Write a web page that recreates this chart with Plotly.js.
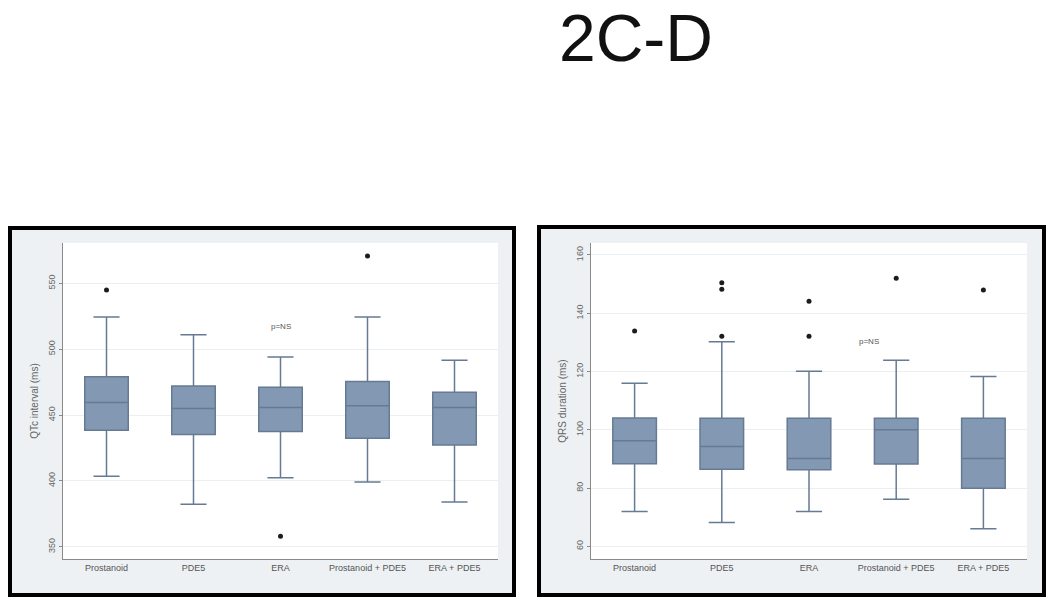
<!DOCTYPE html>
<html>
<head>
<meta charset="utf-8">
<script src="https://cdn.plot.ly/plotly-3.0.1.min.js"></script>
<style>html,body{margin:0;padding:0;background:#fff;}#chart{width:1050px;height:605px;}</style>
</head>
<body>
<div id="chart"></div>
<script>
// ---- Data ----
const categories = ['Prostanoid', 'PDE5', 'ERA', 'Prostanoid + PDE5', 'ERA + PDE5'];

// QTc interval (ms)
const qtcLower  = [403.6, 382.3, 402.3, 399.2, 384.0];
const qtcQ1     = [438.5, 435.2, 437.5, 432.4, 427.3];
const qtcMedian = [459.6, 455.0, 455.8, 457.0, 455.8];
const qtcQ3     = [479.0, 472.0, 471.0, 475.5, 467.2];
const qtcUpper  = [524.4, 511.0, 494.0, 524.4, 491.5];
const qtcOutCat = ['Prostanoid', 'ERA', 'Prostanoid + PDE5'];
const qtcOutVal = [545.0, 358.0, 570.7];

// QRS duration (ms)
const qrsLower  = [72.0, 68.2, 72.0, 76.2, 66.1];
const qrsQ1     = [88.4, 86.5, 86.3, 88.3, 80.0];
const qrsMedian = [96.3, 94.3, 90.2, 100.0, 90.2];
const qrsQ3     = [104.1, 104.0, 104.0, 104.0, 104.0];
const qrsUpper  = [116.0, 130.2, 120.1, 123.9, 118.3];
const qrsOutCat = ['Prostanoid', 'PDE5', 'PDE5', 'PDE5', 'ERA', 'ERA', 'Prostanoid + PDE5', 'ERA + PDE5'];
const qrsOutVal = [133.9, 150.5, 148.2, 132.1, 144.1, 132.1, 152.0, 148.0];

const titleText = '2C-D';
const qtcTitle = 'QTc interval (ms)';
const qrsTitle = 'QRS duration (ms)';
const pText = 'p=NS';

// ---- Styling ----
const W = 1050, H = 605;
const px = v => v / W;
const py = v => (H - v) / H;
const boxFill = '#8399b3';
const boxLine = '#667b93';
const font = 'Liberation Sans, Arial, sans-serif';

function boxTrace(q1, med, q3, lo, hi, xa, ya) {
  return {
    type: 'box', x: categories, q1: q1, median: med, q3: q3,
    lowerfence: lo, upperfence: hi,
    xaxis: xa, yaxis: ya,
    fillcolor: boxFill, line: {color: boxLine, width: 1.5},
    width: 0.5, whiskerwidth: 0.6, boxpoints: false,
    showlegend: false, hoverinfo: 'y'
  };
}
function outTrace(cat, val, xa, ya) {
  return {
    type: 'scatter', mode: 'markers', x: cat, y: val,
    xaxis: xa, yaxis: ya,
    marker: {color: '#1c1c1c', size: 5},
    showlegend: false
  };
}

const data = [
  boxTrace(qtcQ1, qtcMedian, qtcQ3, qtcLower, qtcUpper, 'x', 'y'),
  outTrace(qtcOutCat, qtcOutVal, 'x', 'y'),
  boxTrace(qrsQ1, qrsMedian, qrsQ3, qrsLower, qrsUpper, 'x2', 'y2'),
  outTrace(qrsOutCat, qrsOutVal, 'x2', 'y2')
];

const xCommon = {
  type: 'category', categoryorder: 'array', categoryarray: categories,
  range: [-0.5, 4.5], showline: true, linecolor: '#8a8a8a', linewidth: 1.2,
  ticks: '', showgrid: false, zeroline: false,
  tickfont: {family: font, size: 9, color: '#555'}
};
const yCommon = {
  showline: true, linecolor: '#8a8a8a', linewidth: 1.2,
  ticks: 'outside', ticklen: 3, tickcolor: '#8a8a8a',
  tickangle: -90, tickfont: {family: font, size: 9, color: '#666'},
  showgrid: true, gridcolor: '#eceff2', gridwidth: 1, zeroline: false
};

const yDom = [py(559), py(243)];
const layout = {
  width: W, height: H,
  margin: {l: 0, r: 0, t: 0, b: 0},
  paper_bgcolor: '#ffffff', plot_bgcolor: '#ffffff',
  showlegend: false,
  xaxis: Object.assign({}, xCommon, {domain: [px(63), px(498)], anchor: 'y'}),
  yaxis: Object.assign({}, yCommon, {
    domain: yDom, anchor: 'x', range: [340.7, 580.6],
    tickvals: [350, 400, 450, 500, 550],
    title: {text: qtcTitle, font: {family: font, size: 10, color: '#666'}, standoff: 6}
  }),
  xaxis2: Object.assign({}, xCommon, {domain: [px(591), px(1027)], anchor: 'y2'}),
  yaxis2: Object.assign({}, yCommon, {
    domain: yDom, anchor: 'x2', range: [55.7, 164.1],
    tickvals: [60, 80, 100, 120, 140, 160],
    title: {text: qrsTitle, font: {family: font, size: 10, color: '#666'}, standoff: 6}
  }),
  shapes: [
    {type: 'rect', xref: 'paper', yref: 'paper', layer: 'below',
     x0: px(10), x1: px(514), y0: py(595), y1: py(228),
     fillcolor: '#edf1f4', line: {color: '#000', width: 4}},
    {type: 'rect', xref: 'paper', yref: 'paper', layer: 'below',
     x0: px(539), x1: px(1044), y0: py(595), y1: py(227),
     fillcolor: '#edf1f4', line: {color: '#000', width: 4}},
    {type: 'rect', xref: 'paper', yref: 'paper', layer: 'below',
     x0: px(63), x1: px(498), y0: py(559), y1: py(243),
     fillcolor: '#ffffff', line: {width: 0}},
    {type: 'rect', xref: 'paper', yref: 'paper', layer: 'below',
     x0: px(591), x1: px(1027), y0: py(559), y1: py(243),
     fillcolor: '#ffffff', line: {width: 0}}
  ],
  annotations: [
    {text: titleText, x: px(636), y: 1, xref: 'paper', yref: 'paper',
     xanchor: 'center', yanchor: 'top', showarrow: false, borderpad: 0,
     font: {family: font, size: 66, color: '#111'}},
    {text: pText, x: 2, y: 517.5, xref: 'x', yref: 'y', showarrow: false,
     font: {family: font, size: 8, color: '#555'}},
    {text: pText, x: 2.69, y: 130.2, xref: 'x2', yref: 'y2', showarrow: false,
     font: {family: font, size: 8, color: '#555'}}
  ]
};

Plotly.newPlot('chart', data, layout, {displayModeBar: false, staticPlot: true});
</script>
</body>
</html>
